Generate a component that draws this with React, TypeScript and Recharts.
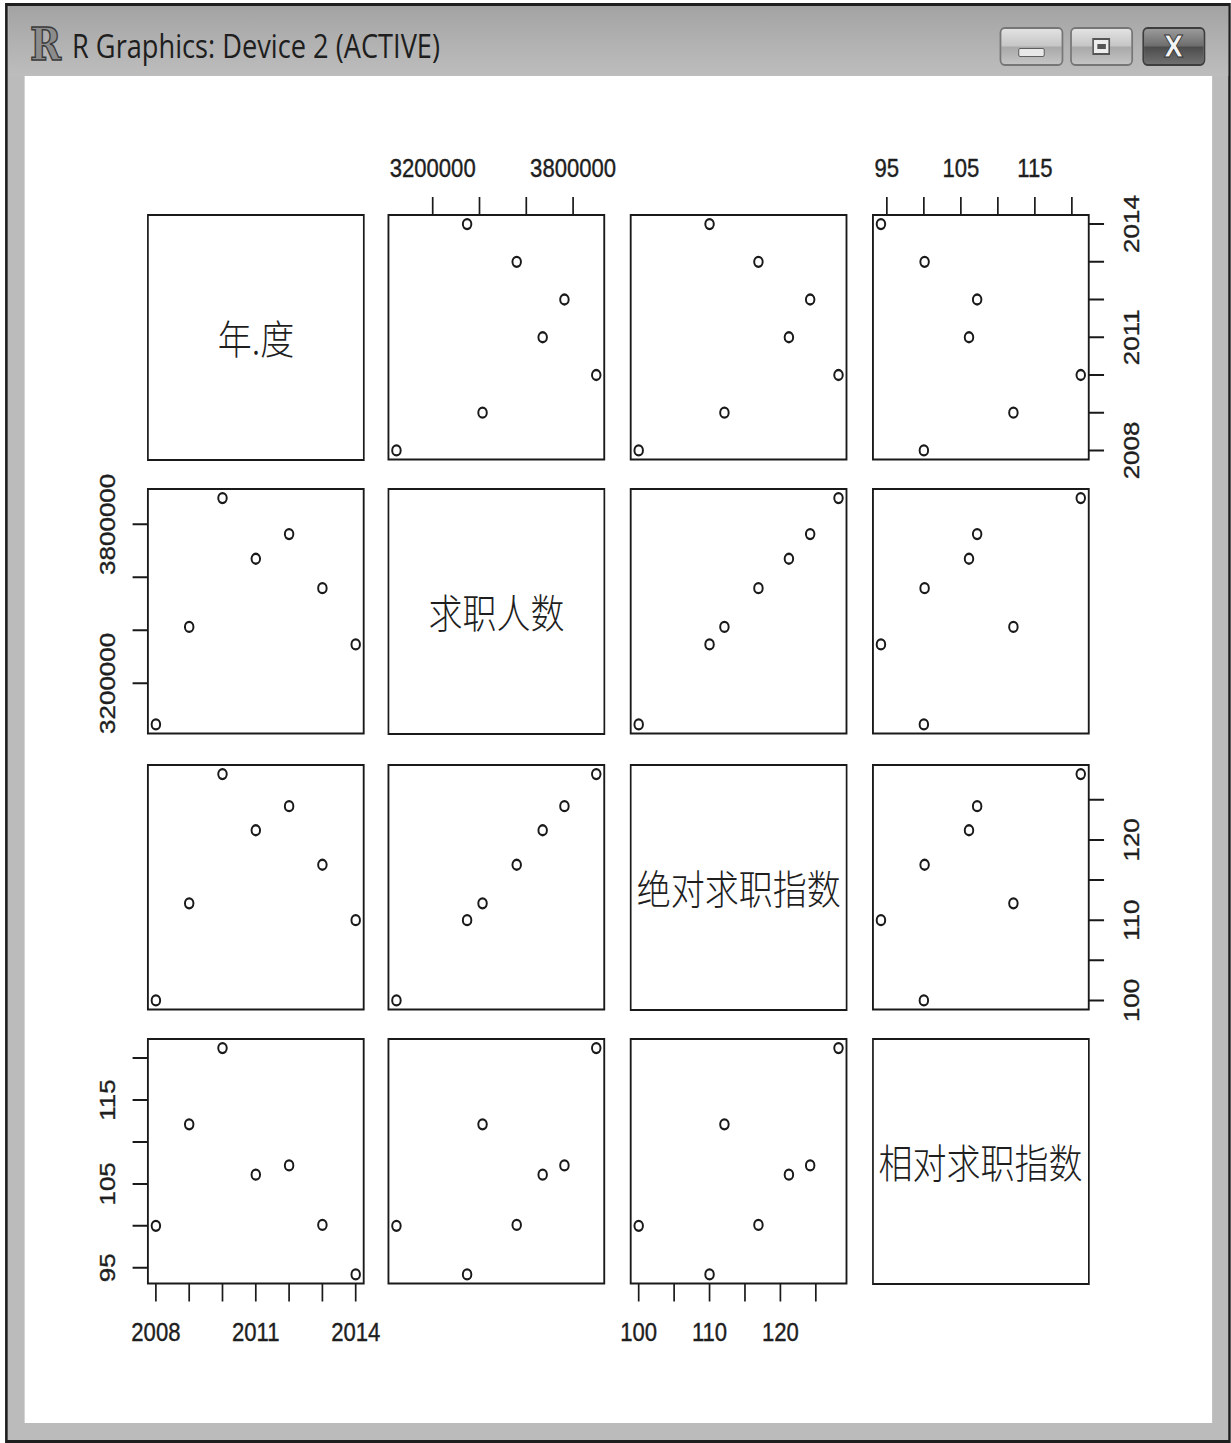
import React from "react";
import { ReferenceArea, Scatter, ScatterChart, XAxis, YAxis } from "recharts";

// the reference window is squeezed horizontally, so we lay out wider and scale x
const SX = 0.85;

const YEARS = [2008, 2009, 2010, 2011, 2012, 2013, 2014];
const JOB_SEEKERS = [3045000, 3413000, 3899000, 3670000, 3763000, 3559000, 3347000];
const ABS_INDEX = [100.0, 112.1, 128.2, 121.2, 124.2, 116.9, 110.0];
const REL_INDEX = [100.0, 112.1, 121.2, 106.1, 107.2, 100.1, 94.2];

const VAR_NAMES = ["年.度", "求职人数", "绝对求职指数", "相对求职指数"];
const SERIES = [YEARS, JOB_SEEKERS, ABS_INDEX, REL_INDEX];

const YEAR_TICKS = [2008, 2009, 2010, 2011, 2012, 2013, 2014];
const YEAR_LABELS = [2008, 2011, 2014];
const SEEKER_TICKS = [3200000, 3400000, 3600000, 3800000];
const SEEKER_LABELS = [3200000, 3800000];
const ABS_TICKS = [100, 105, 110, 115, 120, 125];
const ABS_LABELS = [100, 110, 120];
const REL_TICKS = [95, 100, 105, 110, 115, 120];
const REL_LABELS = [95, 105, 115];

const TICKS = [YEAR_TICKS, SEEKER_TICKS, ABS_TICKS, REL_TICKS];
const LABELS = [YEAR_LABELS, SEEKER_LABELS, ABS_LABELS, REL_LABELS];

// panel boxes, measured in screen px
const COL_LEFT = [148, 388.6, 630.9, 872.7].map((v) => v / SX);
const ROW_TOP = [215, 489, 765, 1039];
const PANEL_W = 215.8 / SX;
const PANEL_H = 244.5;

const M = 90;
const AXIS = 70;
const INK = "#1a1a1a";
const TICK_FONT = "'Liberation Sans', Arial, sans-serif";

function padRange(v: number[]): [number, number] {
  const lo = Math.min(...v);
  const hi = Math.max(...v);
  const pad = (hi - lo) * 0.04;
  return [lo - pad, hi + pad];
}

function Ring(props: any) {
  const { cx, cy } = props;
  if (cx == null || cy == null) return <g />;
  return <circle cx={cx} cy={cy} r={5} fill="none" stroke={INK} strokeWidth={2.3} />;
}

type Side = "top" | "bottom" | "left" | "right";

const makeTick = (side: Side, labels: number[]) => (props: any) => {
  const { x, y, payload } = props;
  if (!labels.includes(payload.value)) return <g />;
  const common = {
    fontFamily: TICK_FONT,
    fontSize: 26,
    fill: "#1e1e1e",
    stroke: "#1e1e1e",
    strokeWidth: 0.4,
    textAnchor: "middle" as const,
  };
  if (side === "top")
    return (
      <text x={x} y={y - 20} {...common}>
        {payload.value}
      </text>
    );
  if (side === "bottom")
    return (
      <text x={x} y={y + 40} {...common}>
        {payload.value}
      </text>
    );
  const dx = side === "left" ? -21 : 41;
  return (
    <text transform={`translate(${x + dx}, ${y}) rotate(-90)`} {...common}>
      {payload.value}
    </text>
  );
};

function Panel({ row, col }: { row: number; col: number }) {
  const xs = SERIES[col];
  const ys = SERIES[row];
  const data = YEARS.map((_, k) => ({ x: xs[k], y: ys[k] }));
  const xDom = padRange(xs);
  const yDom = padRange(ys);

  const top = row === 0 && col % 2 === 1;
  const bottom = row === 3 && col % 2 === 0;
  const left = col === 0 && row % 2 === 1;
  const right = col === 3 && row % 2 === 0;
  const xSide: Side = top ? "top" : "bottom";
  const ySide: Side = left ? "left" : "right";

  return (
    <div style={{ position: "absolute", left: COL_LEFT[col] - M, top: ROW_TOP[row] - M }}>
      <ScatterChart
        width={PANEL_W + 2 * M}
        height={PANEL_H + 2 * M}
        margin={{
          top: top ? M - AXIS : M,
          bottom: bottom ? M - AXIS : M,
          left: left ? M - AXIS : M,
          right: right ? M - AXIS : M,
        }}
      >
        <XAxis
          type="number"
          dataKey="x"
          domain={xDom}
          allowDataOverflow
          hide={!(top || bottom)}
          orientation={xSide}
          height={AXIS}
          ticks={TICKS[col]}
          interval={0}
          axisLine={false}
          tickSize={18}
          tickMargin={0}
          tickLine={{ stroke: INK, strokeWidth: 2 }}
          tick={makeTick(xSide, LABELS[col])}
        />
        <YAxis
          type="number"
          dataKey="y"
          domain={yDom}
          allowDataOverflow
          hide={!(left || right)}
          orientation={ySide}
          width={AXIS}
          ticks={TICKS[row]}
          interval={0}
          axisLine={false}
          tickSize={18}
          tickMargin={0}
          tickLine={{ stroke: INK, strokeWidth: 2 }}
          tick={makeTick(ySide, LABELS[row])}
        />
        <ReferenceArea
          x1={xDom[0]}
          x2={xDom[1]}
          y1={yDom[0]}
          y2={yDom[1]}
          fill="none"
          fillOpacity={0}
          stroke={INK}
          strokeWidth={2.2}
        />
        <Scatter data={data} isAnimationActive={false} shape={Ring} />
      </ScatterChart>
    </div>
  );
}

function NamePanel({ i }: { i: number }) {
  return (
    <div
      style={{
        position: "absolute",
        left: COL_LEFT[i] - 1,
        top: ROW_TOP[i] - 1,
        width: PANEL_W + 2,
        height: PANEL_H + 2,
        border: `2.2px solid ${INK}`,
        boxSizing: "border-box",
        display: "flex",
        alignItems: "center",
        justifyContent: "center",
        fontFamily: "'Noto Sans CJK SC', sans-serif",
        fontWeight: 300,
        fontSize: 40,
        color: "#1e1e1e",
        whiteSpace: "nowrap",
      }}
    >
      {VAR_NAMES[i]}
    </div>
  );
}

function WinButton({ left, close, children }: { left: number; close?: boolean; children: React.ReactNode }) {
  return (
    <div
      style={{
        position: "absolute",
        left: left / SX,
        top: 27,
        width: 63 / SX,
        height: 39,
        borderRadius: 6,
        border: `2px solid ${close ? "#3e3e3e" : "#767676"}`,
        boxSizing: "border-box",
        background: close
          ? "linear-gradient(#9a9a9a, #6e6e6e 48%, #4c4c4c 52%, #707070)"
          : "linear-gradient(#e2e2e2, #c6c6c6 48%, #a9a9a9 52%, #c4c4c4)",
        display: "flex",
        alignItems: "center",
        justifyContent: "center",
      }}
    >
      {children}
    </div>
  );
}

export default function App() {
  const cells = [];
  for (let r = 0; r < 4; r++)
    for (let c = 0; c < 4; c++)
      cells.push(r === c ? <NamePanel key={`${r}-${c}`} i={r} /> : <Panel key={`${r}-${c}`} row={r} col={c} />);

  return (
    <>
      <style>{`body{margin:0;overflow:hidden}`}</style>
      <div
        style={{
          position: "absolute",
          left: 0,
          top: 0,
          width: 1231 / SX,
          height: 1443,
          background: "#fff",
          transform: `scale(${SX}, 1)`,
          transformOrigin: "0 0",
          overflow: "hidden",
        }}
      >
        {/* window frame */}
        <div
          style={{
            position: "absolute",
            left: 5.5 / SX,
            top: 3,
            width: (1231 - 5.5) / SX,
            height: 1440,
            border: "3px solid #1e1e1e",
            boxSizing: "border-box",
            background: "#bbbbbb",
          }}
        />
        <div
          style={{
            position: "absolute",
            left: 8.5 / SX,
            top: 6,
            width: (1228 - 8.5) / SX,
            height: 70,
            background: "linear-gradient(#a3a3a3, #b2b2b2 55%, #bdbdbd)",
          }}
        />
        <div
          style={{
            position: "absolute",
            left: 25 / SX,
            top: 76,
            width: (1212 - 25) / SX,
            height: 1423 - 76,
            background: "#fff",
          }}
        />
        {/* title */}
        <div
          style={{
            position: "absolute",
            left: 30 / SX,
            top: 20,
            fontFamily: "'DejaVu Serif', serif",
            fontWeight: 700,
            fontSize: 44,
            color: "#8c8c8c",
            WebkitTextStroke: "1.5px #3a3a3a",
            lineHeight: "50px",
          }}
        >
          R
        </div>
        <div
          style={{
            position: "absolute",
            left: 72 / SX,
            top: 24,
            fontFamily: "'Open Sans', sans-serif",
            fontSize: 32,
            color: "#1e1e1e",
            lineHeight: "44px",
            whiteSpace: "nowrap",
          }}
        >
          R Graphics: Device 2 (ACTIVE)
        </div>
        <WinButton left={1000}>
          <div style={{ width: 24 / SX, height: 7, background: "#e8e8e8", border: "1.5px solid #555", borderRadius: 2, marginTop: 12 }} />
        </WinButton>
        <WinButton left={1070}>
          <div style={{ width: 18 / SX, height: 17, background: "#eee", border: "2px solid #555", boxSizing: "border-box", display: "flex", alignItems: "center", justifyContent: "center" }}>
            <div style={{ width: 8 / SX, height: 5, background: "#555" }} />
          </div>
        </WinButton>
        <WinButton left={1142} close>
          <div style={{ fontFamily: "'DejaVu Sans', sans-serif", fontWeight: 700, fontSize: 30, color: "#f4f4f4", WebkitTextStroke: "1px #333", lineHeight: "30px" }}>
            X
          </div>
        </WinButton>

        {cells}
      </div>
    </>
  );
}
